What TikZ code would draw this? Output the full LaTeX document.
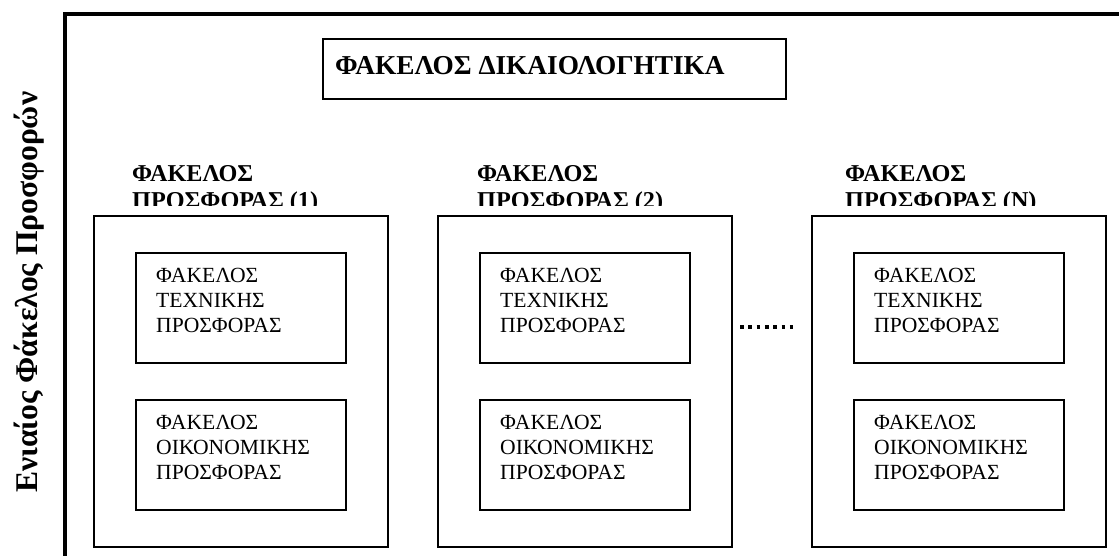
\documentclass[tikz,border=0pt]{standalone}
\usepackage{fontspec}
\setmainfont{Liberation Serif}
\usetikzlibrary{calc}
\begin{document}
\begin{tikzpicture}[x=1pt,y=-1pt,
  frame/.style={line width=3.5pt},
  topbox/.style={draw,line width=1.8pt,minimum width=463pt,minimum height=60pt,anchor=north west,inner sep=0pt},
  groupbox/.style={draw,line width=1.6pt,minimum width=294pt,minimum height=331pt,anchor=north west,inner sep=0pt},
  innerbox/.style={draw,line width=1.6pt,minimum width=210pt,minimum height=110pt,anchor=north west,inner sep=0pt},
  boxtext/.style={anchor=base west,inner sep=0pt,font=\fontsize{21.6}{25}\selectfont},
  grouplabel/.style={anchor=base west,inner sep=0pt,font=\fontsize{24.2}{27}\selectfont\bfseries},
  toptext/.style={anchor=base west,inner sep=0pt,font=\fontsize{27.3}{31}\selectfont\bfseries},
  sidetext/.style={anchor=base west,inner sep=0pt,rotate=90,font=\fontsize{31.6}{35}\selectfont\bfseries},
  dots/.style={line width=3.6pt,dash pattern=on 3.6pt off 4.7pt}]
\useasboundingbox (0,0) rectangle (1119,556);
\begin{scope}
\clip (0,0) rectangle (1119,556);
% outer frame (only its top and left sides are inside the picture)
\coordinate (fbl) at (65,575);
\coordinate (ftl) at (65,14);
\coordinate (ftr) at (1135,14);
\draw[frame] (fbl) -- (ftl) -- (ftr);
\end{scope}
% side title
\node[sidetext] (side) at (37,493) {Ενιαίος Φάκελος Προσφορών};
% top box
\node[topbox] (dik) at (322,38) {};
\node[toptext] (dikt) at (335,75) {ΦΑΚΕΛΟΣ ΔΙΚΑΙΟΛΟΓΗΤΙΚΑ};
% groups
\foreach \gx/\g/\lx in {93/1/132, 437/2/477, 811/N/845}{
  \node[groupbox] (g\g) at (\gx,215) {};
  \node[innerbox] (t\g) at (\gx+42,252) {};
  \node[innerbox] (e\g) at (\gx+42,399) {};
  \foreach \l [count=\i] in {ΦΑΚΕΛΟΣ,ΤΕΧΝΙΚΗΣ,ΠΡΟΣΦΟΡΑΣ}
    \node[boxtext] (t\g-\i) at ($(t\g.north west)+(21,5+25*\i)$) {\l};
  \foreach \l [count=\i] in {ΦΑΚΕΛΟΣ,ΟΙΚΟΝΟΜΙΚΗΣ,ΠΡΟΣΦΟΡΑΣ}
    \node[boxtext] (e\g-\i) at ($(e\g.north west)+(21,5+25*\i)$) {\l};
  \begin{scope}
    \clip (0,0) rectangle (1119,205.5);
    \node[grouplabel] (l\g a) at (\lx,181.5) {ΦΑΚΕΛΟΣ};
    \node[grouplabel] (l\g b) at (\lx,208.5) {ΠΡΟΣΦΟΡΑΣ (\g)};
  \end{scope}
}
% ellipsis between group 2 and group N
\coordinate (d1) at (740,327);
\coordinate (d2) at (795,327);
\draw[dots] (d1) -- (d2);
\end{tikzpicture}
\end{document}
